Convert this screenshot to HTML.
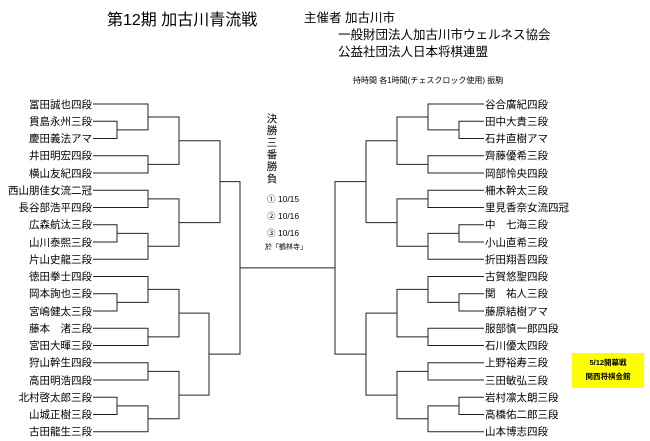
<!DOCTYPE html>
<html><head><meta charset="utf-8"><style>
html,body{margin:0;padding:0;background:#fff;}
svg{display:block;font-family:"Liberation Sans","Noto Sans CJK JP",sans-serif;}
</style></head><body>
<svg width="650" height="441" viewBox="0 0 650 441" xmlns="http://www.w3.org/2000/svg">
<text x="107" y="25" font-size="16" fill="#000">第12期 加古川青流戦</text>
<text x="304" y="22" font-size="12.5" fill="#000">主催者  加古川市</text>
<text x="338" y="39" font-size="12.5" fill="#000">一般財団法人加古川市ウェルネス協会</text>
<text x="338" y="56" font-size="12.5" fill="#000">公益社団法人日本将棋連盟</text>
<text x="353" y="83" font-size="8" fill="#000">持時間  各1時間(チェスクロック使用)  振駒</text>

<g font-size="10.5" fill="#000" text-anchor="end">
<text x="92" y="108">冨田誠也四段</text>
<text x="92" y="125">貫島永州三段</text>
<text x="92" y="142">慶田義法アマ</text>
<text x="92" y="159">井田明宏四段</text>
<text x="92" y="177">横山友紀四段</text>
<text x="92" y="194">西山朋佳女流二冠</text>
<text x="92" y="211">長谷部浩平四段</text>
<text x="92" y="228">広森航汰三段</text>
<text x="92" y="246">山川泰熙三段</text>
<text x="92" y="263">片山史龍三段</text>
<text x="92" y="280">徳田拳士四段</text>
<text x="92" y="297">岡本詢也三段</text>
<text x="92" y="315">宮嶋健太三段</text>
<text x="92" y="332">藤本　渚三段</text>
<text x="92" y="349">宮田大暉三段</text>
<text x="92" y="366">狩山幹生四段</text>
<text x="92" y="384">高田明浩四段</text>
<text x="92" y="401">北村啓太郎三段</text>
<text x="92" y="418">山城正樹三段</text>
<text x="92" y="435">古田龍生三段</text>
</g>
<g font-size="10.5" fill="#000">
<text x="485" y="108">谷合廣紀四段</text>
<text x="485" y="125">田中大貴三段</text>
<text x="485" y="142">石井直樹アマ</text>
<text x="485" y="159">齊藤優希三段</text>
<text x="485" y="177">岡部怜央四段</text>
<text x="485" y="194">柵木幹太三段</text>
<text x="485" y="211">里見香奈女流四冠</text>
<text x="485" y="228">中　七海三段</text>
<text x="485" y="246">小山直希三段</text>
<text x="485" y="263">折田翔吾四段</text>
<text x="485" y="280">古賀悠聖四段</text>
<text x="485" y="297">関　祐人三段</text>
<text x="485" y="315">藤原結樹アマ</text>
<text x="485" y="332">服部慎一郎四段</text>
<text x="485" y="349">石川優太四段</text>
<text x="485" y="366">上野裕寿三段</text>
<text x="485" y="384">三田敏弘三段</text>
<text x="485" y="401">岩村凛太朗三段</text>
<text x="485" y="418">高橋佑二郎三段</text>
<text x="485" y="435">山本博志四段</text>
</g>

<g font-size="10.5" fill="#000" text-anchor="middle">
<text x="272" y="122">決</text>
<text x="272" y="134">勝</text>
<text x="272" y="146">三</text>
<text x="272" y="158">番</text>
<text x="272" y="170">勝</text>
<text x="272" y="182">負</text>
</g>
<g font-size="8.5" fill="#000">
<text x="267" y="202">①  10/15</text>
<text x="267" y="219">②  10/16</text>
<text x="267" y="236">③  10/16</text>
<text x="265" y="249" font-size="7">於「鶴林寺」</text>
</g>

<rect x="572" y="353" width="72" height="35" fill="#ffff00"/>
<text x="608" y="365" font-size="7.5" font-weight="bold" text-anchor="middle" fill="#000">5/12開幕戦</text>
<text x="608" y="379" font-size="7.5" font-weight="bold" text-anchor="middle" fill="#000">関西将棋会館</text>

<g stroke="#222" stroke-width="1" fill="none">
<!-- left -->
<path d="M93 121.25H117V138.5H93"/>
<path d="M93 104H148V129.9H117"/>
<path d="M93 155.75H148V173H93"/>
<path d="M148 117H179V164.4H148"/>
<path d="M93 190.25H148V207.5H93"/>
<path d="M93 224.75H117V242H93"/>
<path d="M117 233.4H148V259.25H93"/>
<path d="M148 198.9H179V246.3H148"/>
<path d="M179 140.7H220V222.6H179"/>
<path d="M93 293.75H117V311H93"/>
<path d="M93 276.5H148V302.4H117"/>
<path d="M93 328.25H148V345.5H93"/>
<path d="M148 289.4H179V336.9H148"/>
<path d="M93 362.75H148V380H93"/>
<path d="M93 397.25H117V414.5H93"/>
<path d="M117 405.9H148V431.75H93"/>
<path d="M148 371.4H179V418.8H148"/>
<path d="M179 313.1H209V395.1H179"/>
<path d="M220 181.6H240V354.1H209"/>
<path d="M240 267.9H335"/>
<!-- right -->
<path d="M484 121.25H459V138.5H484"/>
<path d="M484 104H428V129.9H459"/>
<path d="M484 155.75H428V173H484"/>
<path d="M428 117H397V164.4H428"/>
<path d="M484 190.25H428V207.5H484"/>
<path d="M484 224.75H459V242H484"/>
<path d="M459 233.4H428V259.25H484"/>
<path d="M428 198.9H397V246.3H428"/>
<path d="M397 140.7H366V222.6H397"/>
<path d="M484 293.75H459V311H484"/>
<path d="M484 276.5H428V302.4H459"/>
<path d="M484 328.25H428V345.5H484"/>
<path d="M428 289.4H397V336.9H428"/>
<path d="M484 362.75H428V380H484"/>
<path d="M484 397.25H459V414.5H484"/>
<path d="M459 405.9H428V431.75H484"/>
<path d="M428 371.4H397V418.8H428"/>
<path d="M397 313.1H366V395.1H397"/>
<path d="M366 181.6H335V354.1H366"/>
</g>
</svg>
</body></html>
